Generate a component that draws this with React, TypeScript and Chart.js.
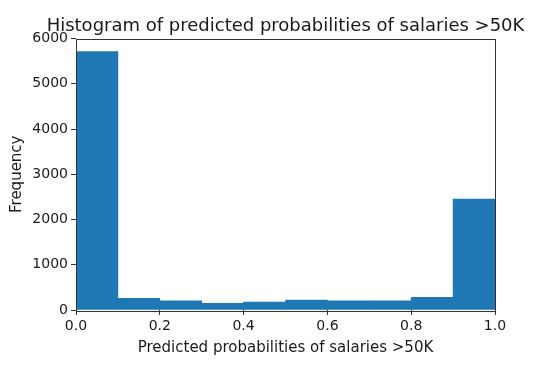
import React, { useEffect, useRef } from "react";
import { Chart, registerables } from "chart.js";

Chart.register(...registerables);

const binEdges = [0, 0.1, 0.2, 0.3, 0.4, 0.5, 0.6, 0.7, 0.8, 0.9, 1.0];
const counts = [5710, 258, 205, 148, 177, 221, 205, 205, 280, 2453];
const xTicks = [0, 0.2, 0.4, 0.6, 0.8, 1.0];
const yTicks = [0, 1000, 2000, 3000, 4000, 5000, 6000];
const titleText = "Histogram of predicted probabilities of salaries >50K";
const xLabel = "Predicted probabilities of salaries >50K";
const yLabel = "Frequency";

const FONT = "'DejaVu Sans', sans-serif";
const TEXT = "#1a1a1a";
const SPINE = "#333333";

const frame = {
  id: "frame",
  afterDatasetsDraw(chart: any) {
    const { ctx, chartArea } = chart;
    ctx.save();
    ctx.strokeStyle = SPINE;
    ctx.lineWidth = 1;
    ctx.strokeRect(
      Math.round(chartArea.left) + 0.5,
      Math.round(chartArea.top) + 0.5,
      Math.round(chartArea.right - chartArea.left),
      Math.round(chartArea.bottom - chartArea.top)
    );
    ctx.restore();
  },
  afterDraw(chart: any) {
    const { ctx, chartArea } = chart;
    ctx.save();
    ctx.fillStyle = TEXT;
    ctx.font = `normal 18px ${FONT}`;
    ctx.textAlign = "center";
    ctx.textBaseline = "alphabetic";
    ctx.fillText(titleText, (chartArea.left + chartArea.right) / 2, 31);
    ctx.restore();
  },
};

export default function App() {
  const ref = useRef<HTMLCanvasElement | null>(null);

  useEffect(() => {
    if (!ref.current) return;
    const data = counts.map((c, i) => ({ x: (binEdges[i] + binEdges[i + 1]) / 2, y: c }));
    const chart = new Chart(ref.current, {
      type: "bar",
      data: {
        datasets: [
          {
            data: data as any,
            backgroundColor: "#1f77b4",
            borderWidth: 0,
            barPercentage: 1,
            categoryPercentage: 1,
          },
        ],
      },
      options: {
        responsive: false,
        animation: false,
        layout: { padding: { left: 0, right: 47, top: 38.5, bottom: 0 } },
        plugins: {
          legend: { display: false },
          tooltip: { enabled: false },
          title: { display: false },
        },
        scales: {
          x: {
            type: "linear",
            min: binEdges[0],
            max: binEdges[binEdges.length - 1],
            offset: false,
            afterBuildTicks: (s: any) => {
              s.ticks = xTicks.map((v) => ({ value: v }));
            },
            afterFit: (s: any) => {
              s.height = 64;
            },
            ticks: {
              color: TEXT,
              font: { family: FONT, size: 14 },
              padding: 3,
              maxRotation: 0,
              callback: (v: any) => Number(v).toFixed(1),
            },
            grid: {
              display: true,
              offset: false,
              drawOnChartArea: false,
              drawTicks: true,
              tickLength: 5,
              color: SPINE,
            },
            border: { display: false },
            title: {
              display: true,
              text: xLabel,
              color: TEXT,
              font: { family: FONT, size: 15 },
              padding: { top: 0, bottom: 16.5 },
            },
          },
          y: {
            type: "linear",
            min: yTicks[0],
            max: yTicks[yTicks.length - 1],
            afterBuildTicks: (s: any) => {
              s.ticks = yTicks.map((v) => ({ value: v }));
            },
            afterFit: (s: any) => {
              s.width = 76;
            },
            ticks: {
              color: TEXT,
              font: { family: FONT, size: 14 },
              padding: 3,
              callback: (v: any) => String(v),
            },
            grid: {
              display: true,
              offset: false,
              drawOnChartArea: false,
              drawTicks: true,
              tickLength: 5,
              color: SPINE,
            },
            border: { display: false },
            title: {
              display: true,
              text: yLabel,
              color: TEXT,
              font: { family: FONT, size: 15 },
              padding: { top: 8.5, bottom: 0 },
            },
          },
        },
      },
      plugins: [frame],
    });
    return () => chart.destroy();
  }, []);

  return (
    <div style={{ position: "absolute", left: 0, top: 0, width: 542, height: 374, background: "#fff" }}>
      <canvas ref={ref} width={542} height={374} style={{ display: "block" }} />
    </div>
  );
}
